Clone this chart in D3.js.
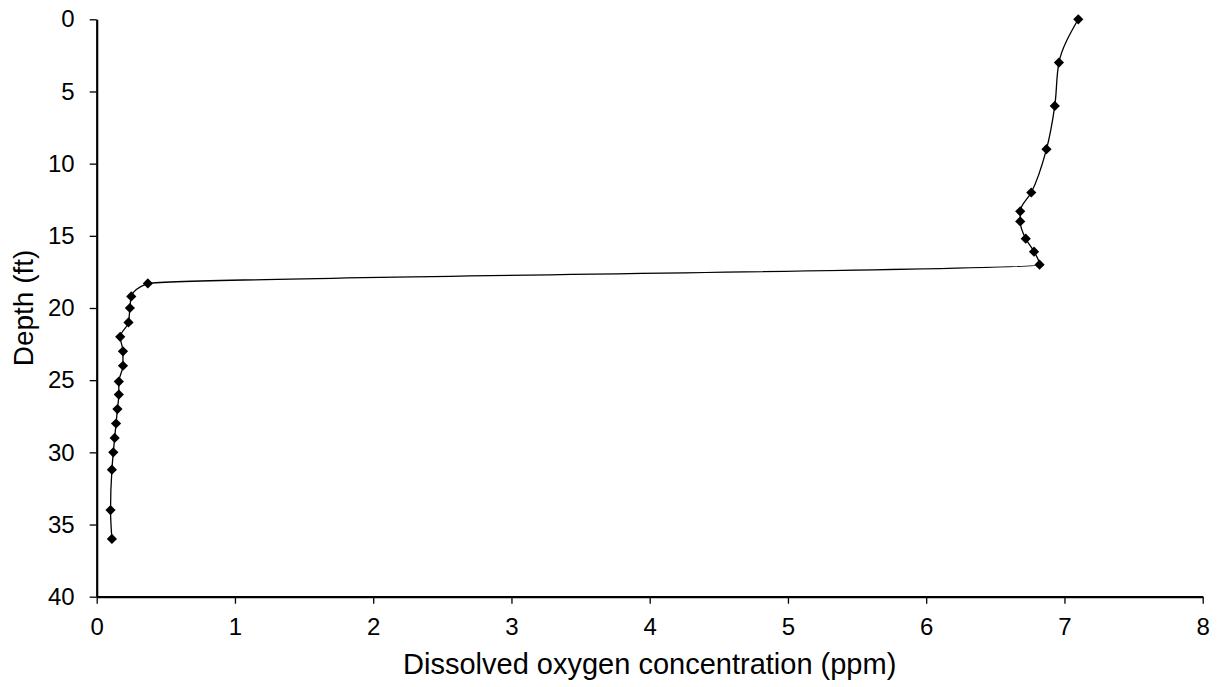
<!DOCTYPE html>
<html>
<head>
<meta charset="utf-8">
<script src="https://cdn.jsdelivr.net/npm/d3@7"></script>
<style>
  html, body { margin: 0; padding: 0; background: #fff; }
  svg { display: block; font-family: "Liberation Sans", Arial, sans-serif; }
</style>
</head>
<body>
<svg id="chart" width="1221" height="687"></svg>
<script>
// Dissolved oxygen profile: concentration (ppm) against depth (ft)
const depthFt = [0, 3, 6, 9, 12, 13.3, 14, 15.2, 16.1, 17, 18.3, 19.2, 20, 21, 22, 23, 24, 25.1, 26, 27, 28, 29, 30, 31.2, 34, 36];
const oxygenPpm = [7.10, 6.96, 6.93, 6.87, 6.76, 6.68, 6.68, 6.72, 6.78, 6.82, 0.37, 0.25, 0.24, 0.23, 0.17, 0.19, 0.19, 0.16, 0.16, 0.15, 0.14, 0.13, 0.12, 0.11, 0.10, 0.11];
const xTicks = [0, 1, 2, 3, 4, 5, 6, 7, 8];
const yTicks = [0, 5, 10, 15, 20, 25, 30, 35, 40];
const xTitle = "Dissolved oxygen concentration (ppm)";
const yTitle = "Depth (ft)";

const svg = d3.select("#chart");
const plotLeft = 96.7, plotRight = 1202.7, plotTop = 19.3, plotBottom = 596.7;

const x = d3.scaleLinear().domain([0, 8]).range([plotLeft, plotRight]);
const y = d3.scaleLinear().domain([0, 40]).range([plotTop, plotBottom]);

const points = depthFt.map((d, i) => ({ depth: d, ppm: oxygenPpm[i] }));

// Smoothed profile line (depth increases monotonically, so no overshoot at the jump)
const line = d3.line()
  .x(d => x(d.ppm))
  .y(d => y(d.depth))
  .curve(d3.curveMonotoneY);

svg.append("path")
  .datum(points)
  .attr("d", line)
  .attr("fill", "none")
  .attr("stroke", "#000")
  .attr("stroke-width", 1.3);

// Diamond markers
const diamond = d3.symbol().type(d3.symbolSquare).size(52);
svg.append("g").selectAll("path")
  .data(points)
  .join("path")
  .attr("d", diamond)
  .attr("transform", d => `translate(${x(d.ppm)},${y(d.depth)}) rotate(45)`)
  .attr("fill", "#000");

// Axes
const xAxis = svg.append("g")
  .attr("transform", `translate(0,${plotBottom})`)
  .call(d3.axisBottom(x).tickValues(xTicks).tickFormat(d3.format("d"))
    .tickSizeInner(7).tickSizeOuter(0).tickPadding(14));
const yAxis = svg.append("g")
  .attr("transform", `translate(${plotLeft},0)`)
  .call(d3.axisLeft(y).tickValues(yTicks).tickFormat(d3.format("d"))
    .tickSizeInner(7).tickSizeOuter(0).tickPadding(15));

[xAxis, yAxis].forEach(g => {
  g.select(".domain").attr("stroke", "#000").attr("stroke-width", 2.2);
  g.selectAll(".tick line").attr("stroke", "#000").attr("stroke-width", 1.3);
  g.selectAll(".tick text")
    .attr("fill", "#000")
    .style("font-size", "24px")
    .style("font-family", "'Liberation Sans', Arial, sans-serif");
});

// Axis titles
svg.append("text")
  .attr("x", (plotLeft + plotRight) / 2)
  .attr("y", 674)
  .attr("text-anchor", "middle")
  .style("font-size", "29px")
  .attr("fill", "#000")
  .text(xTitle);

svg.append("text")
  .attr("transform", `translate(33,${(plotTop + plotBottom) / 2}) rotate(-90)`)
  .attr("text-anchor", "middle")
  .style("font-size", "28px")
  .attr("fill", "#000")
  .text(yTitle);
</script>
</body>
</html>
